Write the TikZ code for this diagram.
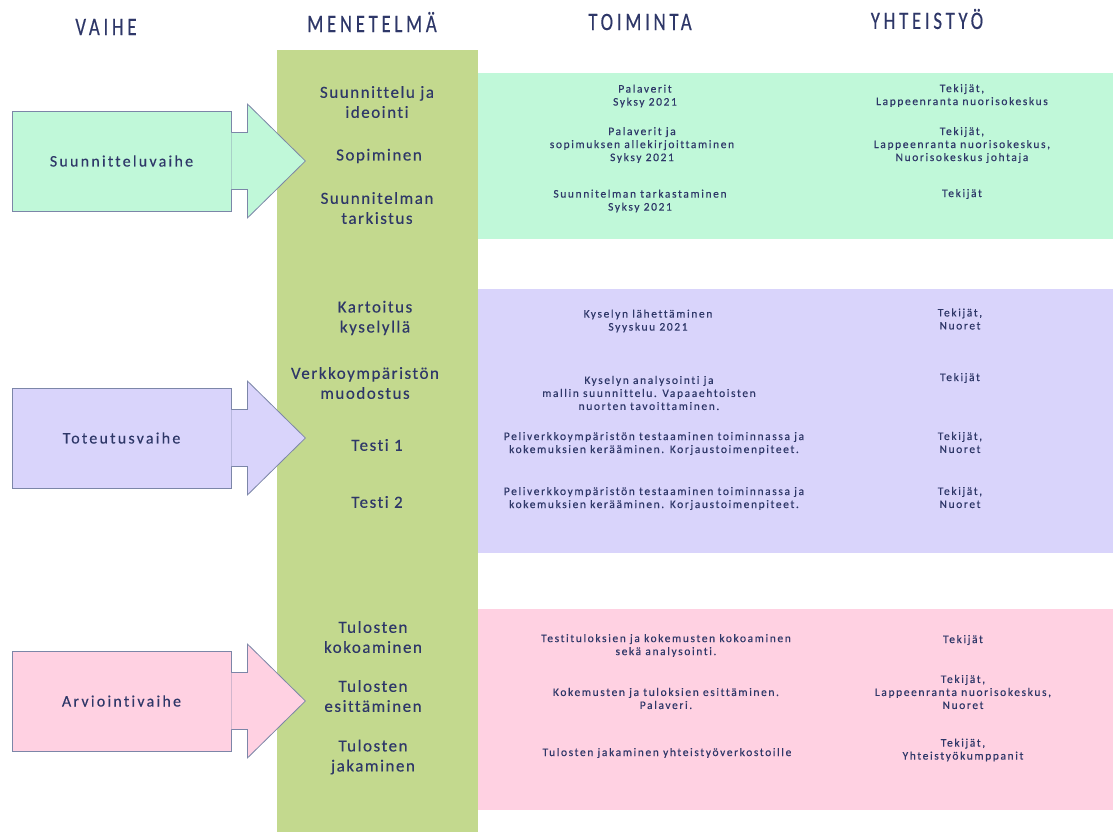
\documentclass[tikz,border=0pt]{standalone}
\usepackage{fontspec}
\newfontfamily\hfont[LetterSpace=15,FakeStretch=0.75,FakeBold=0.3,Ligatures=NoCommon]{Carlito}
\newfontfamily\cfont[LetterSpace=9,FakeBold=0.3,Ligatures=NoCommon]{Carlito}
\newfontfamily\bfont[LetterSpace=14,FakeBold=0.2,Ligatures=NoCommon]{Carlito}
\newfontfamily\sfont[LetterSpace=14,FakeBold=0.3,Ligatures=NoCommon]{Carlito}
\usetikzlibrary{calc}
\definecolor{mint}{HTML}{C0F8D9}
\definecolor{lila}{HTML}{D9D4FB}
\definecolor{rosa}{HTML}{FFD1E2}
\definecolor{olive}{HTML}{C3D98E}
\definecolor{ink}{HTML}{2E3768}
\definecolor{edge}{HTML}{7C86A8}
\tikzset{
  hdr/.style={font=\hfont\fontsize{25}{30}\selectfont, text=ink, inner sep=0pt},
  col/.style={font=\cfont\fontsize{17}{20}\selectfont, text=ink, align=center, inner sep=0pt},
  sm/.style={font=\sfont\fontsize{11.5}{13}\selectfont, text=ink, align=center, inner sep=0pt},
  vbox/.style={draw=edge, line width=0.8pt, minimum width=219pt, minimum height=100pt, inner sep=0pt,
    font=\bfont\fontsize{16}{18}\selectfont, text=ink},
  head/.style={draw=edge, line width=0.8pt, line join=miter},
}
\newcommand{\phasearrow}[4]{% name, y, colour, text
  \node[vbox, fill=#3] (#1) at (121.5,#2) {#4};
  \path[head, fill=#3] ($(#1.east)+(0,-28.5)$) -- ++(16,0) -- ++(0,-28.5)
     -- ($(#1.east)+(74,0)$) -- ($(#1.east)+(16,57)$) -- ++(0,-28.5) -- ($(#1.east)+(0,28.5)$);
}
\begin{document}
\begin{tikzpicture}[x=1pt,y=-1pt]
\useasboundingbox[fill=white] (0,0) rectangle (1117,832);
% column and panels
\fill[olive] (277,50) rectangle (478,832);
\fill[mint] (478,73) rectangle (1113,239);
\fill[lila] (478,289) rectangle (1113,553);
\fill[rosa] (478,609) rectangle (1113,810);
% headers
\node[hdr] (h1) at (106,27) {VAIHE};
\node[hdr] (h2) at (372,22) {MENETELMÄ};
\node[hdr] (h3) at (640,22) {TOIMINTA};
\node[hdr] (h4) at (927,19) {YHTEISTYÖ};
% phase arrows
\phasearrow{p1}{161}{mint}{Suunnitteluvaihe}
\phasearrow{p2}{438}{lila}{Toteutusvaihe}
\phasearrow{p3}{701}{rosa}{Arviointivaihe}
% method column
\node[col] (a1) at (377,102) {Suunnittelu ja\\ideointi};
\node[col] (a2) at (379,156) {Sopiminen};
\node[col] (a3) at (377,208) {Suunnitelman\\tarkistus};
\node[col] (b1) at (375,318) {Kartoitus\\kyselyllä};
\node[col] (b2) at (365,383) {Verkkoympäristön\\muodostus};
\node[col] (b3) at (377,445) {Testi 1};
\node[col] (b4) at (377,502) {Testi 2};
\node[col] (c1) at (373,637) {Tulosten\\kokoaminen};
\node[col] (c2) at (373,696) {Tulosten\\esittäminen};
\node[col] (c3) at (373,757) {Tulosten\\jakaminen};
% toiminta
\node[sm] (t1) at (645,96) {Palaverit\\Syksy 2021};
\node[sm] (t2) at (642,145) {Palaverit ja\\sopimuksen allekirjoittaminen\\Syksy 2021};
\node[sm] (t3) at (640,201) {Suunnitelman tarkastaminen\\Syksy 2021};
\node[sm] (t4) at (648,321) {Kyselyn lähettäminen\\Syyskuu 2021};
\node[sm] (t5) at (649,393) {Kyselyn analysointi ja\\mallin suunnittelu. Vapaaehtoisten\\nuorten tavoittaminen.};
\node[sm] (t6) at (654,443.5) {Peliverkkoympäristön testaaminen toiminnassa ja\\kokemuksien kerääminen. Korjaustoimenpiteet.};
\node[sm] (t7) at (654,498.5) {Peliverkkoympäristön testaaminen toiminnassa ja\\kokemuksien kerääminen. Korjaustoimenpiteet.};
\node[sm] (t8) at (666,645.5) {Testituloksien ja kokemusten kokoaminen\\sekä analysointi.};
\node[sm] (t9) at (666,698.5) {Kokemusten ja tuloksien esittäminen.\\Palaveri.};
\node[sm] (t10) at (667,753) {Tulosten jakaminen yhteistyöverkostoille};
% yhteistyo
\node[sm] (y1) at (962,95.5) {Tekijät,\\Lappeenranta nuorisokeskus};
\node[sm] (y2) at (962,145) {Tekijät,\\Lappeenranta nuorisokeskus,\\Nuorisokeskus johtaja};
\node[sm] (y3) at (962,194) {Tekijät};
\node[sm] (y4) at (960,319) {Tekijät,\\Nuoret};
\node[sm] (y5) at (960,378) {Tekijät};
\node[sm] (y6) at (960,442.5) {Tekijät,\\Nuoret};
\node[sm] (y7) at (960,497.5) {Tekijät,\\Nuoret};
\node[sm] (y8) at (963,640) {Tekijät};
\node[sm] (y9) at (963,692) {Tekijät,\\Lappeenranta nuorisokeskus,\\Nuoret};
\node[sm] (y10) at (963,750) {Tekijät,\\Yhteistyökumppanit};
\end{tikzpicture}
\end{document}
